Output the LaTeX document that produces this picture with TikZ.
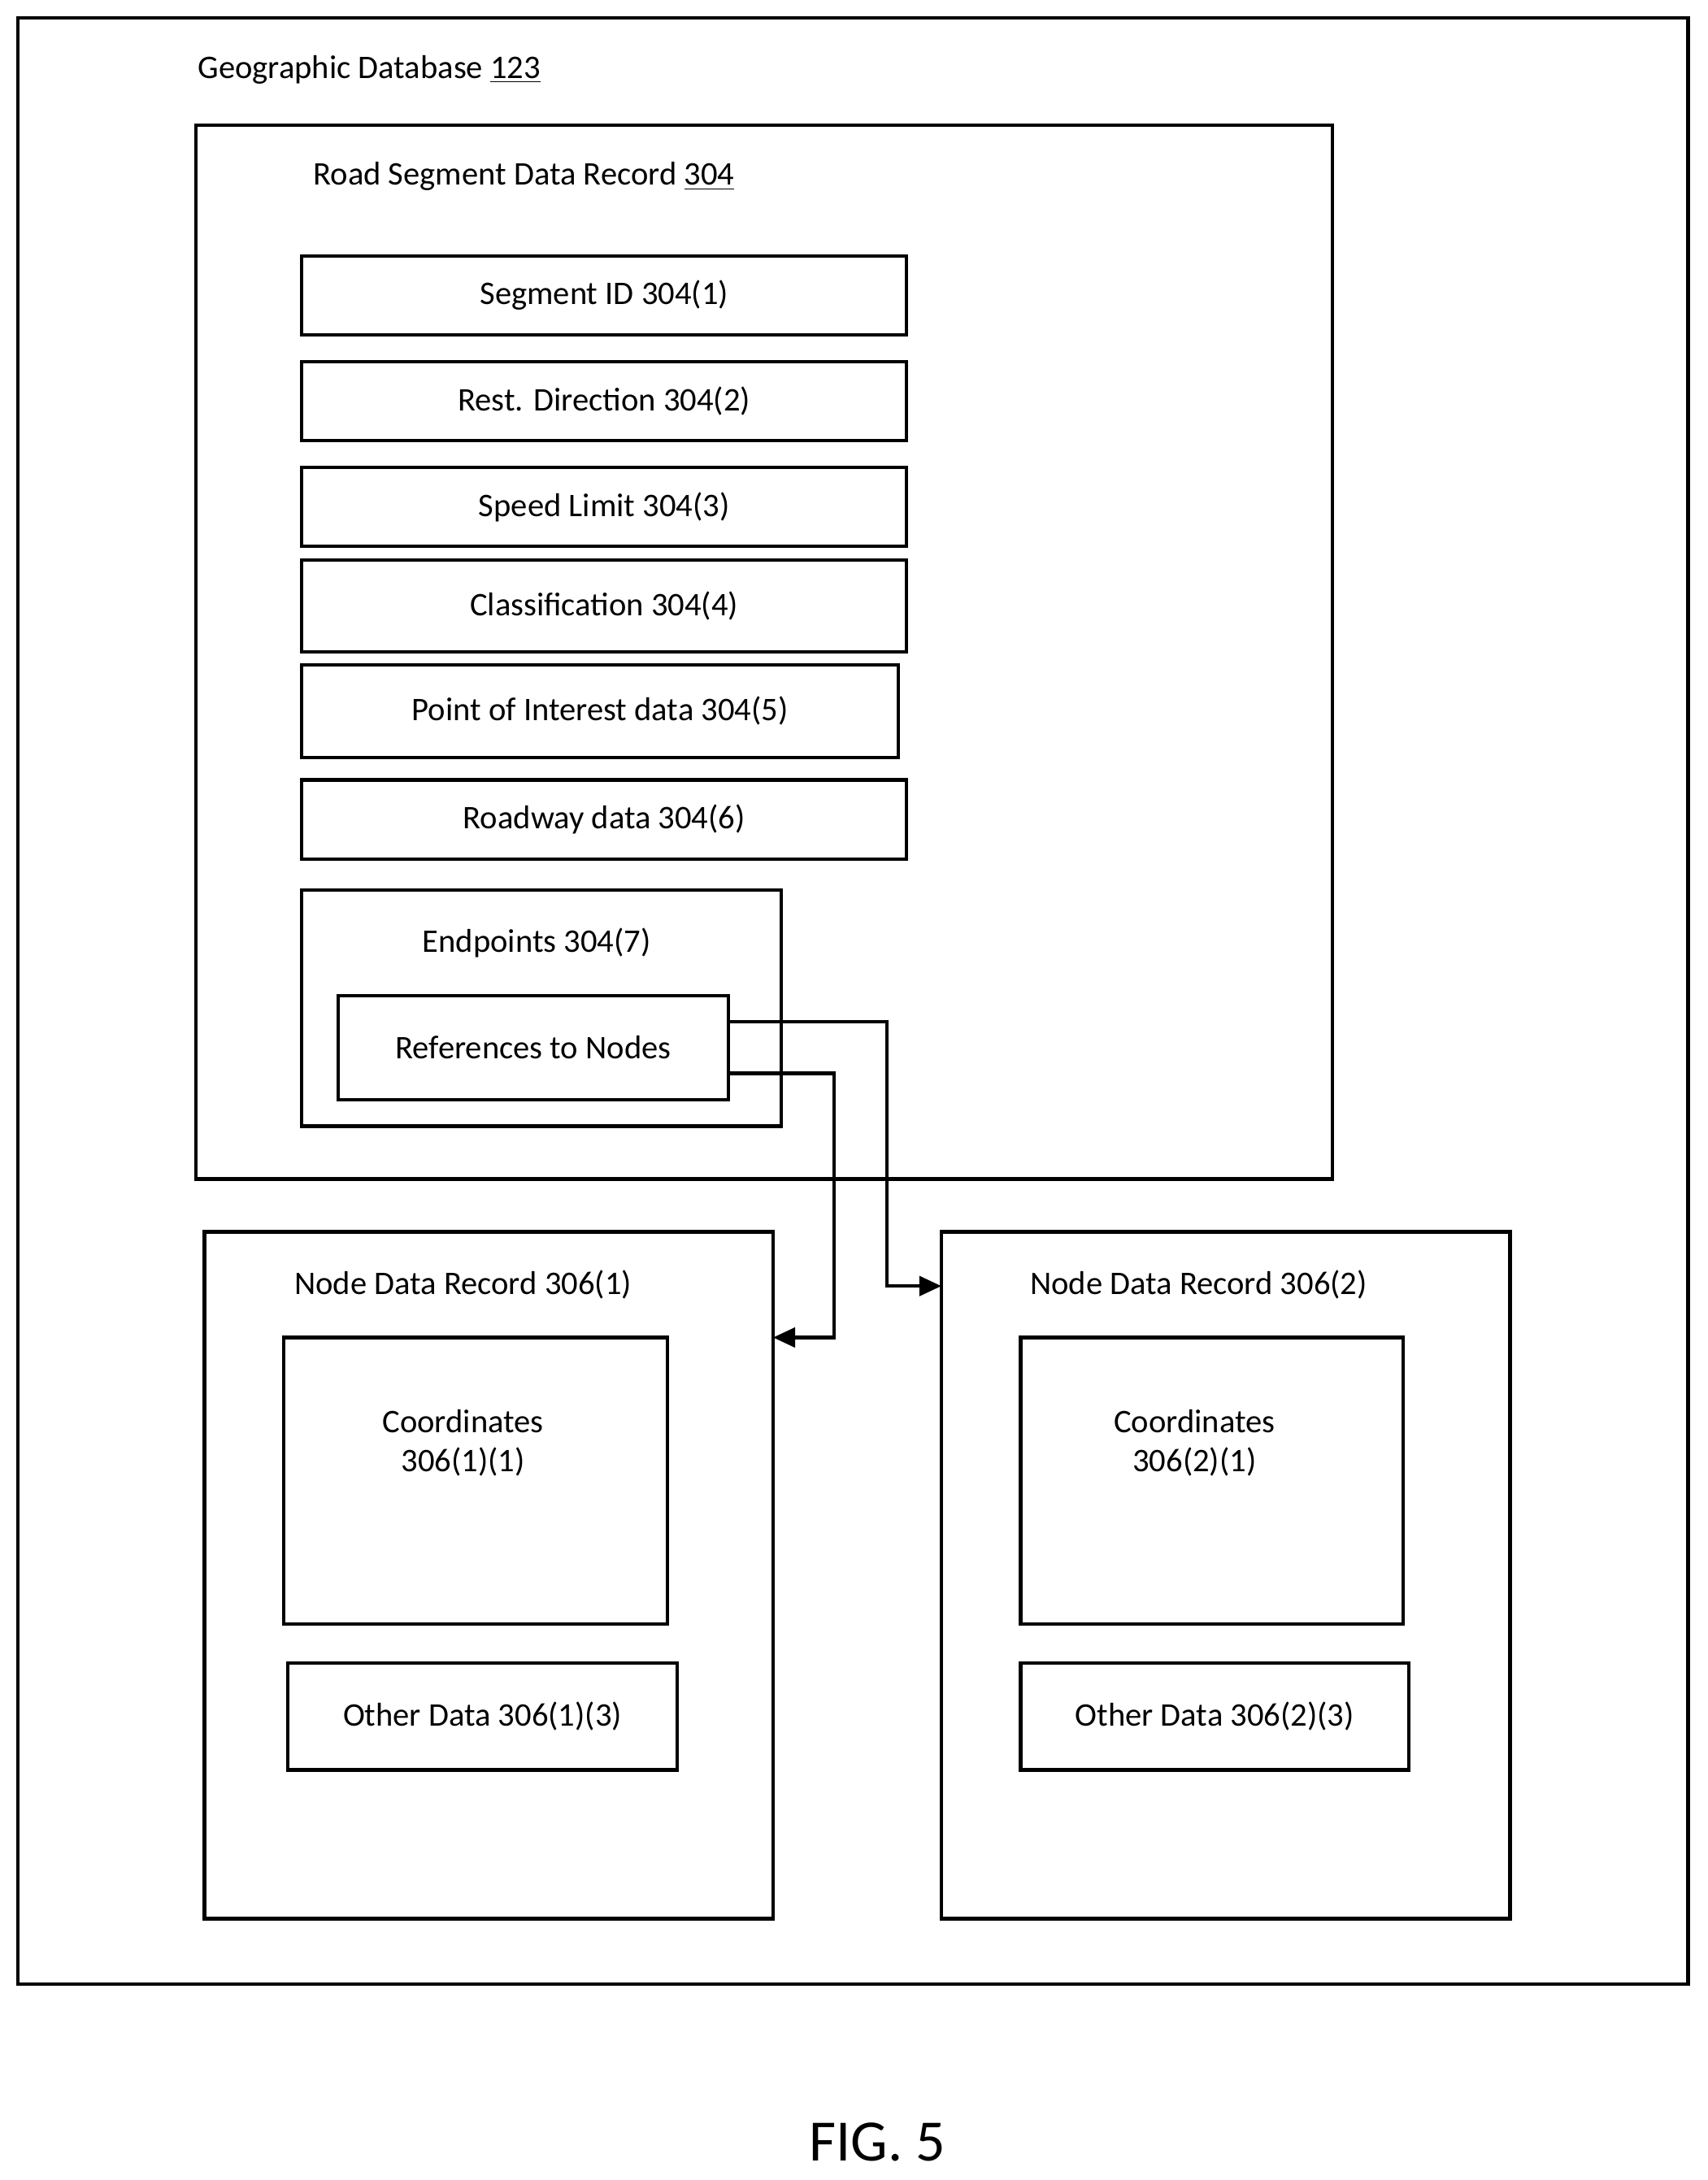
\documentclass[tikz,border=0pt]{standalone}
\usepackage{fontspec}
\setmainfont{Carlito}
\usetikzlibrary{arrows.meta}
\begin{document}
\begin{tikzpicture}[x=0.02cm,y=-0.02cm,
 bx/.style={draw,line width=1.4pt},
 t/.style={font=\fontsize{13.5}{16}\selectfont,inner sep=0pt},
 conn/.style={line width=1.4pt,-{Triangle[length=9pt,width=8pt]}}]
\useasboundingbox (0,0) rectangle (1228,1568);
\draw[bx] (13,13) rectangle (1214,1427);
\node[t,anchor=west] (gt) at (142,50) {Geographic Database \underline{123}};
\draw[bx] (141,90) rectangle (958,848);
\node[t,anchor=west] (rt) at (225,127) {Road Segment Data Record \underline{304}};
\node[bx,t,minimum width=435*0.02cm,minimum height=57*0.02cm] (s1) at (434.5,212.5) {Segment ID 304(1)};
\node[bx,t,minimum width=435*0.02cm,minimum height=57*0.02cm] (s2) at (434.5,288.5) {Rest. Direction 304(2)};
\node[bx,t,minimum width=435*0.02cm,minimum height=57*0.02cm] (s3) at (434.5,364.5) {Speed Limit 304(3)};
\node[bx,t,minimum width=435*0.02cm,minimum height=66*0.02cm] (s4) at (434.5,436) {Classification 304(4)};
\node[bx,t,minimum width=429*0.02cm,minimum height=67*0.02cm] (s5) at (431.5,511.5) {Point of Interest data 304(5)};
\node[bx,t,minimum width=435*0.02cm,minimum height=57*0.02cm] (s6) at (434.5,589.5) {Roadway data 304(6)};
\draw[bx] (217,640) rectangle (562,810);
\node[t] (ept) at (386,678) {Endpoints 304(7)};
\node[bx,t,minimum width=281*0.02cm,minimum height=75*0.02cm] (ref) at (383.5,753.5) {References to Nodes};
% node 1
\draw[bx] (147,886) rectangle (556,1380);
\coordinate (n1) at (556,962);
\node[t] (n1t) at (333,924) {Node Data Record 306(1)};
\draw[bx] (204,962) rectangle (480,1168);
\node[t,align=center] (c1) at (333,1038) {Coordinates\\306(1)(1)};
\node[bx,t,minimum width=280*0.02cm,minimum height=77*0.02cm] (o1) at (347,1234.5) {Other Data 306(1)(3)};
% node 2
\draw[bx] (677,886) rectangle (1086,1380);
\coordinate (n2) at (677,925);
\node[t] (n2t) at (862,924) {Node Data Record 306(2)};
\draw[bx] (734,962) rectangle (1009,1168);
\node[t,align=center] (c2) at (859,1038) {Coordinates\\306(2)(1)};
\node[bx,t,minimum width=279*0.02cm,minimum height=77*0.02cm] (o2) at (873.5,1234.5) {Other Data 306(2)(3)};
% connectors
\coordinate (r1) at (524,735);
\coordinate (r2) at (524,772);
\draw[conn] (r1) -- (638,735) -- (638,925) -- (n2);
\draw[conn] (r2) -- (600,772) -- (600,962) -- (n1);
\node[font=\fontsize{24}{28}\selectfont,inner sep=0pt] (fig) at (631,1541) {FIG. 5};
\end{tikzpicture}
\end{document}
